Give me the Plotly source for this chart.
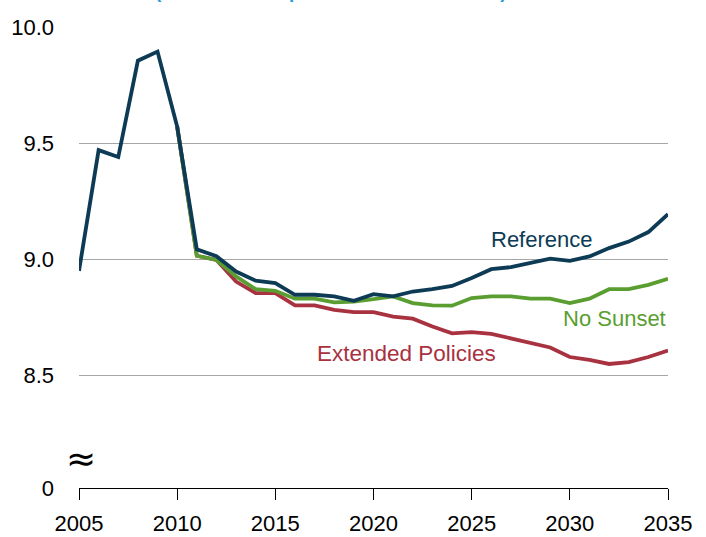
import plotly.graph_objects as go

# --- data ---
years_ref = list(range(2005, 2036))
reference = [8.95, 9.47, 9.44, 9.855, 9.894, 9.571, 9.043, 9.013, 8.947, 8.908,
             8.897, 8.847, 8.847, 8.840, 8.821, 8.850, 8.840, 8.861, 8.871, 8.885,
             8.919, 8.957, 8.966, 8.983, 9.003, 8.993, 9.012, 9.048, 9.076, 9.117, 9.194]

years_alt = list(range(2010, 2036))
no_sunset = [9.571, 9.015, 8.997, 8.926, 8.871, 8.864, 8.830, 8.830, 8.814, 8.818,
             8.828, 8.840, 8.811, 8.801, 8.800, 8.833, 8.840, 8.840, 8.830, 8.830,
             8.811, 8.830, 8.871, 8.871, 8.890, 8.916]
extended = [9.571, 9.015, 8.997, 8.904, 8.854, 8.854, 8.801, 8.801, 8.782, 8.772,
            8.772, 8.753, 8.744, 8.710, 8.681, 8.686, 8.679, 8.660, 8.639, 8.620,
            8.579, 8.567, 8.549, 8.557, 8.579, 8.607]

y_ticks = [8.015, 8.5, 9.0, 9.5, 10.0]
y_labels = ["0", "8.5", "9.0", "9.5", "10.0"]
x_ticks = [2005, 2010, 2015, 2020, 2025, 2030, 2035]

NAVY = "#0d3b55"
GREEN = "#5a9e32"
RED = "#a8323f"
FONT = "Liberation Sans, Arial, sans-serif"

fig = go.Figure()

fig.add_trace(go.Scatter(x=years_alt, y=extended, mode="lines", name="Extended Policies",
                         line=dict(color=RED, width=3.8)))
fig.add_trace(go.Scatter(x=years_alt, y=no_sunset, mode="lines", name="No Sunset",
                         line=dict(color=GREEN, width=3.8)))
fig.add_trace(go.Scatter(x=years_ref, y=reference, mode="lines", name="Reference",
                         line=dict(color=NAVY, width=3.8)))

# series labels on the chart
fig.add_annotation(x=2028.6, y=9.085, text="Reference", showarrow=False,
                   font=dict(color=NAVY, size=22, family=FONT))
fig.add_annotation(x=2032.25, y=8.745, text="No Sunset", showarrow=False,
                   font=dict(color=GREEN, size=22, family=FONT))
fig.add_annotation(x=2021.7, y=8.593, text="Extended Policies", showarrow=False,
                   font=dict(color=RED, size=22.5, family=FONT))

# axis break mark
fig.add_annotation(x=2005.1, y=8.14, text="≈", showarrow=False,
                   font=dict(color="black", size=36, family="DejaVu Sans"))

# title, cut off at the top edge of the picture as in the source
fig.add_annotation(xref="paper", yref="paper", x=0.428, y=1.0, yshift=23,
                   xanchor="center", yanchor="bottom",
                   text="(thousand Btu per chained 2005 dollar)", showarrow=False,
                   font=dict(color="#2b9bdc", size=19, family=FONT, weight="bold"))

fig.update_layout(
    width=706, height=537,
    margin=dict(l=79, r=38, t=27, b=49),
    plot_bgcolor="white", paper_bgcolor="white",
    showlegend=False,
    font=dict(family=FONT, size=22, color="black"),
    xaxis=dict(range=[2005, 2035], tickvals=x_ticks, showgrid=False,
               showline=True, linecolor="black", linewidth=1.2,
               ticks="outside", ticklen=11, tickcolor="black", tickwidth=1.2,
               ticklabelstandoff=4, zeroline=False, automargin=False),
    yaxis=dict(range=[8.015, 10.0], tickvals=y_ticks, ticktext=y_labels,
               showgrid=True, gridcolor="#a6a6a6", gridwidth=1,
               ticks="", ticklabelstandoff=24, zeroline=False, showline=False,
               automargin=False),
)

# drop the default page margin so the figure sits at the window's corner
fig.write_html("out.html", config={"displayModeBar": False},
               post_script="document.body.style.margin='0px';")
